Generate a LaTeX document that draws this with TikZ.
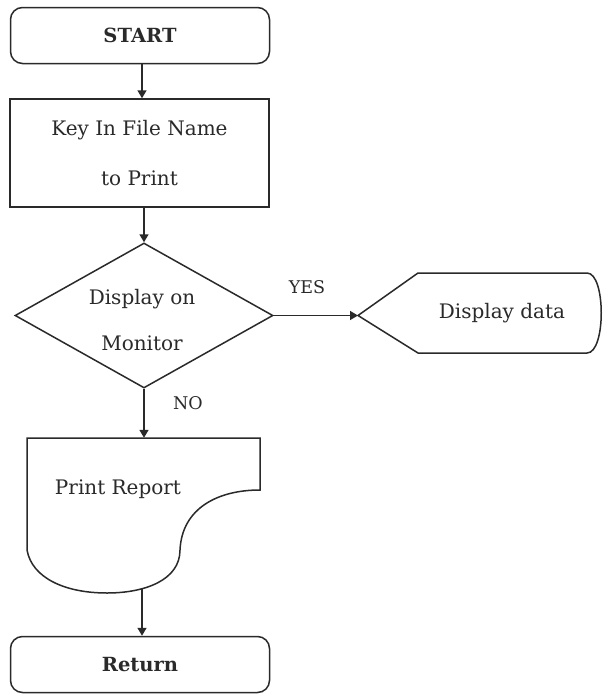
\documentclass[tikz,border=0pt]{standalone}
\usepackage{fontspec}
\setmainfont{DejaVu Serif}
\usetikzlibrary{shapes.geometric,arrows.meta}
\definecolor{ink}{HTML}{2A2A2A}
\begin{document}
\begin{tikzpicture}[x=1pt,y=-1pt,
  every node/.style={text=ink,font=\fontsize{20}{24}\selectfont},
  line/.style={draw=ink,line width=1.5pt},
  arr/.style={draw=ink,line width=1.5pt,-{Triangle[length=8pt,width=9pt]}},
  term/.style={line,rounded corners=12pt,minimum width=259pt,minimum height=56pt,inner sep=0pt,font=\bfseries\fontsize{19.5}{23}\selectfont},
  proc/.style={line,rectangle,minimum width=259pt,minimum height=108pt,inner sep=0pt,align=center},
  dec/.style={line,diamond,minimum width=258pt,minimum height=145pt,inner sep=0pt},
  txt/.style={inner sep=0pt,align=center},
  lbl/.style={inner sep=0pt,font=\fontsize{17.5}{21}\selectfont}]
\useasboundingbox[fill=white] (0,0) rectangle (603,694);
% nodes
\node[term] (start) at (140,35.5) {START};
\node[proc] (key) at (139.5,153) {Key In File Name\\[26pt]to Print};
\node[dec] (disp) at (144,315.5) {};
\node[txt] (disptxt) at (142,320) {Display on\\[22pt]Monitor};
% display output shape
\coordinate (ddl) at (358,315.5);
\draw[line] (ddl) -- (418,273) -- (587,273) .. controls (606,273) and (606,353) .. (587,353) -- (418,353) -- cycle;
\node[txt] (dd) at (502,313) {Display data};
% document shape
\node[minimum width=233pt,minimum height=155pt,inner sep=0pt] (prn) at (143.5,515.5) {};
\draw[line] (27,438) -- (260,438) -- (260,490)
  .. controls (218,490) and (182,508) .. (180,550)
  .. controls (180,580) and (145,593) .. (107,593)
  .. controls (65,593) and (32,578) .. (27,550) -- cycle;
\node[txt] (prntxt) at (118,489) {Print Report};
\coordinate (prnb) at (142,589);
\node[term] (ret) at (140,664.5) {Return};
% labels
\node[lbl] (yes) at (307,287) {YES};
\node[lbl] (no) at (188,403) {NO};
% connectors
\draw[arr] (start.south -| 142,0) -- (key.north -| 142,0);
\draw[arr] (key.south -| disp.north) -- (disp.north);
\draw[arr] (disp.east) -- (ddl);
\draw[arr] (disp.south) -- (prn.north -| disp.south);
\draw[arr] (prnb) -- (ret.north -| prnb);
\end{tikzpicture}
\end{document}
